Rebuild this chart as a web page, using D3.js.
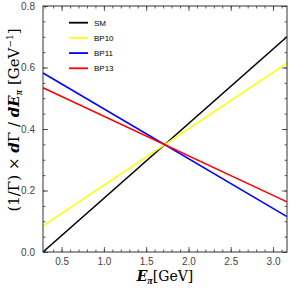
<!DOCTYPE html>
<html><head><meta charset="utf-8">
<script src="https://cdn.jsdelivr.net/npm/d3@7"></script>
<style>body{margin:0;background:#fff}svg{display:block}</style>
</head><body>
<script>
// Data
const series = ["SM", "BP10", "BP11", "BP13"];
const colors = ["#000000", "#ffff00", "#0000ff", "#ff0000"];
const xEnds = [0.28, 3.165];
const smValues = [0.0, 0.700];
const bp10Values = [0.085, 0.614];
const bp11Values = [0.582, 0.115];
const bp13Values = [0.534, 0.163];
const xTicks = [0.5, 1.0, 1.5, 2.0, 2.5, 3.0];
const yTicks = [0.0, 0.2, 0.4, 0.6, 0.8];

const allValues = [smValues, bp10Values, bp11Values, bp13Values];

const W = 291, H = 292;
const m = {left: 43, right: 4, top: 6, bottom: 40};
const svg = d3.select("body").append("svg").attr("width", W).attr("height", H);

const x = d3.scaleLinear().domain(xEnds).range([m.left, W - m.right]);
const y = d3.scaleLinear().domain([0, 0.8]).range([H - m.bottom, m.top]);

const frameColor = "#333";
const tickFont = "'Liberation Sans', Arial, sans-serif";

// minor ticks
const xMinor = d3.range(0.3, 3.17, 0.1).map(v => +v.toFixed(2));
const yMinor = d3.range(0, 0.801, 0.05).map(v => +v.toFixed(2));

function styleAxis(g) {
  g.select(".domain").remove();
  g.selectAll("line").attr("stroke", frameColor).attr("stroke-width", 0.8);
}

// bottom
svg.append("g").attr("transform", `translate(0,${y(0)})`)
  .call(d3.axisBottom(x).tickValues(xMinor).tickSize(-2.5).tickFormat(""))
  .call(styleAxis);
svg.append("g").attr("transform", `translate(0,${y(0)})`)
  .call(d3.axisBottom(x).tickValues(xTicks).tickSize(-5).tickPadding(6).tickFormat(d3.format(".1f")))
  .call(styleAxis)
  .call(g => g.selectAll("text").attr("font-family", tickFont).attr("font-size", 10).attr("fill", "#444"));
// top
svg.append("g").attr("transform", `translate(0,${y(0.8)})`)
  .call(d3.axisTop(x).tickValues(xMinor).tickSize(-2.5).tickFormat(""))
  .call(styleAxis);
svg.append("g").attr("transform", `translate(0,${y(0.8)})`)
  .call(d3.axisTop(x).tickValues(xTicks).tickSize(-5).tickFormat(""))
  .call(styleAxis);
// left
svg.append("g").attr("transform", `translate(${x(xEnds[0])},0)`)
  .call(d3.axisLeft(y).tickValues(yMinor).tickSize(-2.5).tickFormat(""))
  .call(styleAxis);
svg.append("g").attr("transform", `translate(${x(xEnds[0])},0)`)
  .call(d3.axisLeft(y).tickValues(yTicks).tickSize(-5).tickPadding(8).tickFormat(d3.format(".1f")))
  .call(styleAxis)
  .call(g => g.selectAll("text").attr("font-family", tickFont).attr("font-size", 10).attr("fill", "#444"));
// right
svg.append("g").attr("transform", `translate(${x(xEnds[1])},0)`)
  .call(d3.axisRight(y).tickValues(yMinor).tickSize(-2.5).tickFormat(""))
  .call(styleAxis);
svg.append("g").attr("transform", `translate(${x(xEnds[1])},0)`)
  .call(d3.axisRight(y).tickValues(yTicks).tickSize(-5).tickFormat(""))
  .call(styleAxis);

// lines
const line = d3.line().x(d => x(d[0])).y(d => y(d[1]));
allValues.forEach((vals, i) => {
  svg.append("path")
    .datum(xEnds.map((xv, j) => [xv, vals[j]]))
    .attr("d", line)
    .attr("fill", "none")
    .attr("stroke", colors[i])
    .attr("stroke-width", 1.6);
});

// frame
svg.append("rect")
  .attr("x", x(xEnds[0])).attr("y", y(0.8))
  .attr("width", x(xEnds[1]) - x(xEnds[0])).attr("height", y(0) - y(0.8))
  .attr("fill", "none").attr("stroke", frameColor).attr("stroke-width", 1);

// legend
const lg = svg.append("g");
series.forEach((s, i) => {
  const yy = 22.7 + i * 15.2;
  lg.append("line").attr("x1", 69).attr("x2", 88).attr("y1", yy).attr("y2", yy)
    .attr("stroke", colors[i]).attr("stroke-width", 1.8);
  lg.append("text").attr("x", 94).attr("y", yy).attr("dy", "0.35em")
    .attr("font-family", tickFont).attr("font-size", 8).attr("fill", "#000").text(s);
});

// axis labels
const serif = "'DejaVu Serif', 'Liberation Serif', serif";
const piFont = "'Liberation Serif', serif";
const xl = svg.append("text").attr("x", 165).attr("y", 281).attr("text-anchor", "middle")
  .attr("font-family", serif).attr("font-size", 14).attr("fill", "#000");
xl.append("tspan").attr("font-weight", "bold").attr("font-style", "italic").text("E");
xl.append("tspan").attr("font-family", piFont).attr("font-size", 10).attr("font-weight", "bold").attr("font-style", "italic").attr("dy", 3).text("π");
xl.append("tspan").attr("dy", -3).text("[GeV]");

const yl = svg.append("text").attr("transform", "translate(19,120) rotate(-90)")
  .attr("text-anchor", "middle")
  .attr("font-family", serif).attr("font-size", 15).attr("fill", "#000");
yl.append("tspan").text("(1/Γ) × ");
yl.append("tspan").attr("font-weight", "bold").attr("font-style", "italic").text("d");
yl.append("tspan").text("Γ / ");
yl.append("tspan").attr("font-weight", "bold").attr("font-style", "italic").text("dE");
yl.append("tspan").attr("font-family", piFont).attr("font-size", 10).attr("font-weight", "bold").attr("font-style", "italic").attr("dy", 3).text("π");
yl.append("tspan").attr("dy", -3).text(" [GeV");
yl.append("tspan").attr("font-size", 9).attr("dy", -6).text("−1");
yl.append("tspan").attr("dy", 6).text("]");
</script>
</body></html>
